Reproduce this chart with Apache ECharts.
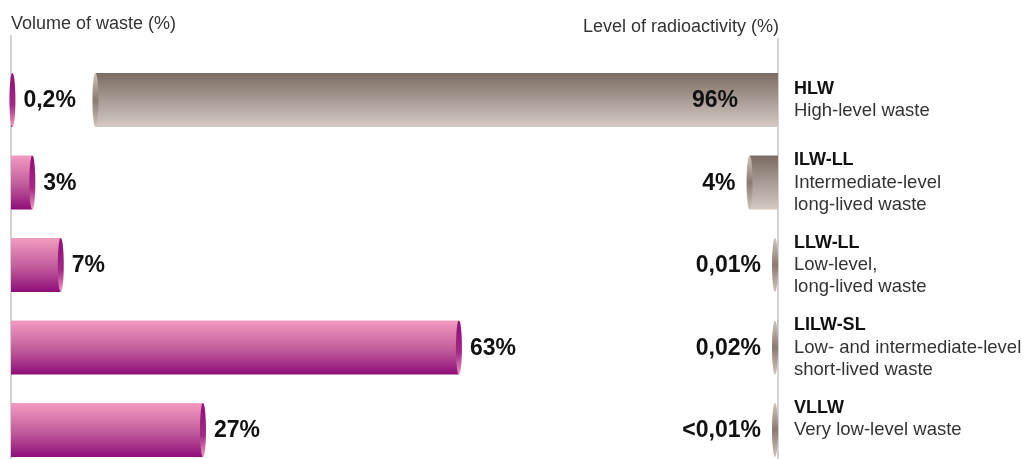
<!DOCTYPE html>
<html>
<head>
<meta charset="utf-8">
<script src="https://cdn.jsdelivr.net/npm/echarts@6/dist/echarts.min.js"></script>
<style>
  html, body { margin: 0; padding: 0; background: #fff; }
  #chart { width: 1030px; height: 459px; }
</style>
</head>
<body>
<div id="chart"></div>
<script>
  // categories (top to bottom)
  var wasteCodes = ['HLW', 'ILW-LL', 'LLW-LL', 'LILW-SL', 'VLLW'];
  var wasteNames = [
    'High-level waste',
    'Intermediate-level\nlong-lived waste',
    'Low-level,\nlong-lived waste',
    'Low- and intermediate-level\nshort-lived waste',
    'Very low-level waste'
  ];
  // volume of waste (%)
  var volumeValues = [0.2, 3, 7, 63, 27];
  var volumeLabels = ['0,2%', '3%', '7%', '63%', '27%'];
  // level of radioactivity (%)
  var radioValues = [96, 4, 0.01, 0.02, 0.01];
  var radioLabels = ['96%', '4%', '0,01%', '0,02%', '<0,01%'];

  var FONT = '"Liberation Sans", Arial, sans-serif';
  var chart = echarts.init(document.getElementById('chart'));

  var pinkBody = new echarts.graphic.LinearGradient(0, 0, 0, 1, [
    { offset: 0, color: '#f29bc0' },
    { offset: 0.55, color: '#c15a9b' },
    { offset: 1, color: '#8e0e79' }
  ]);
  var pinkCap = new echarts.graphic.LinearGradient(0, 0, 0, 1, [
    { offset: 0, color: '#8e0e79' },
    { offset: 0.6, color: '#a52a86' },
    { offset: 1, color: '#f29bc0' }
  ]);
  var grayBody = new echarts.graphic.LinearGradient(0, 0, 0, 1, [
    { offset: 0, color: '#7b6c63' },
    { offset: 1, color: '#d4cac3' }
  ]);
  var grayCap = new echarts.graphic.LinearGradient(0, 0, 0, 1, [
    { offset: 0, color: '#cfc5be' },
    { offset: 0.5, color: '#8a7a71' },
    { offset: 1, color: '#cfc5be' }
  ]);

  function makeRender(side, labels) {
    return function (params, api) {
      var v = api.value(0);
      var idx = api.value(1);
      var p0 = api.coord([0, idx]);
      var p1 = api.coord([v, idx]);
      var h = api.size([0, 1])[1] * 0.655;
      var y = p0[1] - h / 2;
      var rx = 3;
      var children = [];
      var capX = p1[0];
      var tx, align;
      if (side === 'left') {
        children.push({
          type: 'rect',
          shape: { x: p0[0], y: y, width: Math.max(p1[0] - p0[0], 0), height: h },
          style: { fill: pinkBody }
        });
        tx = capX + rx + 8;
        align = 'left';
      } else {
        capX = Math.min(p1[0], p0[0] - rx);
        children.push({
          type: 'rect',
          shape: { x: p1[0], y: y, width: Math.max(p0[0] - p1[0], 0), height: h },
          style: { fill: grayBody }
        });
        if (v > 50) {
          tx = p0[0] - 40;
        } else {
          tx = capX - rx - 11;
        }
        align = 'right';
      }
      children.push({
        type: 'ellipse',
        shape: { cx: capX, cy: p0[1], rx: rx, ry: h / 2 },
        style: { fill: side === 'left' ? pinkCap : grayCap }
      });
      children.push({
        type: 'text',
        style: {
          x: tx, y: p0[1] + 1,
          text: labels[params.dataIndex],
          font: 'bold 23px ' + FONT,
          fill: '#111',
          align: align,
          verticalAlign: 'middle'
        }
      });
      return { type: 'group', children: children };
    };
  }

  // row centres sit on the category points (boundaryGap false)
  var AXIS_L = 11, AXIS_R = 778, SPAN = 711, TOP = 100, H = 330;

  var codeData = wasteCodes.map(function (c, i) {
    // last entry reads top-aligned in the original
    return i === wasteCodes.length - 1 ? { value: c, textStyle: { padding: [0, 0, 22, 0] } } : c;
  });

  var option = {
    animation: false,
    title: [
      {
        text: 'Volume of waste (%)',
        left: AXIS_L, top: 15, padding: 0,
        textStyle: { fontFamily: FONT, fontSize: 18, fontWeight: 'normal', color: '#333' }
      },
      {
        text: 'Level of radioactivity (%)',
        right: 1030 - AXIS_R - 1, top: 18, padding: 0,
        textStyle: { fontFamily: FONT, fontSize: 18, fontWeight: 'normal', color: '#333' }
      }
    ],
    grid: [
      { left: AXIS_L, top: TOP, width: SPAN, height: H },
      { left: AXIS_R - SPAN, top: TOP, width: SPAN, height: H }
    ],
    xAxis: [
      { type: 'value', gridIndex: 0, min: 0, max: 100, show: false },
      { type: 'value', gridIndex: 1, min: 0, max: 100, inverse: true, show: false }
    ],
    yAxis: [
      {
        type: 'category', gridIndex: 0, inverse: true, boundaryGap: false, data: wasteCodes,
        axisLine: { show: false }, axisTick: { show: false }, axisLabel: { show: false }
      },
      {
        type: 'category', gridIndex: 1, inverse: true, boundaryGap: false, position: 'right', data: codeData,
        axisLine: { show: false }, axisTick: { show: false },
        axisLabel: {
          margin: 16,
          align: 'left',
          formatter: function (val, i) {
            return '{b|' + val + '}\n{d|' + wasteNames[i].split('\n').join('}\n{d|') + '}';
          },
          rich: {
            b: { fontFamily: FONT, fontSize: 18, fontWeight: 'bold', color: '#111', lineHeight: 22 },
            d: { fontFamily: FONT, fontSize: 18.5, color: '#333', lineHeight: 22 }
          }
        }
      }
    ],
    graphic: [
      { type: 'line', z: 0, shape: { x1: AXIS_L, y1: 35, x2: AXIS_L, y2: 459 }, style: { stroke: '#d3d3d3', lineWidth: 2 } },
      { type: 'line', z: 0, shape: { x1: AXIS_R, y1: 38, x2: AXIS_R, y2: 459 }, style: { stroke: '#d3d3d3', lineWidth: 2 } }
    ],
    series: [
      {
        type: 'custom', xAxisIndex: 0, yAxisIndex: 0, z: 5,
        renderItem: makeRender('left', volumeLabels),
        data: volumeValues.map(function (v, i) { return [v, i]; })
      },
      {
        type: 'custom', xAxisIndex: 1, yAxisIndex: 1, z: 5,
        renderItem: makeRender('right', radioLabels),
        data: radioValues.map(function (v, i) { return [v, i]; })
      }
    ]
  };

  chart.setOption(option);
</script>
</body>
</html>
